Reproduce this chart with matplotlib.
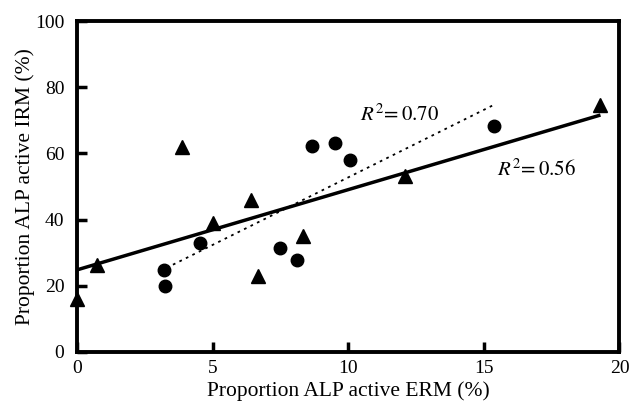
import matplotlib
matplotlib.use('Agg')
import numpy as np
import matplotlib.pyplot as plt

plt.rcParams['font.family'] = ['Liberation Serif', 'DejaVu Serif']
plt.rcParams['mathtext.fontset'] = 'stix'

# triangles (IRM vs ERM, group 1)
tri_x = [0.0, 0.75, 3.86, 5.03, 6.42, 6.69, 8.35, 12.08, 19.3]
tri_y = [16.0, 26.4, 62.0, 39.0, 45.8, 23.1, 34.9, 53.3, 74.5]

# circles (group 2)
circ_x = [3.22, 3.25, 4.54, 7.49, 8.10, 8.66, 9.52, 10.07, 15.36]
circ_y = [24.8, 19.8, 32.9, 31.4, 27.7, 62.2, 63.0, 58.0, 68.3]

# regression lines
solid_x = [0.0, 19.3]
solid_y = [24.8, 71.6]
dot_x = [3.3, 15.4]
dot_y = [25.4, 74.8]

fig = plt.figure(figsize=(6.33, 4.05), dpi=100)
ax = fig.add_axes([0.1216, 0.131, 0.857, 0.817])

ax.plot(solid_x, solid_y, color='black', linewidth=2.5, solid_capstyle='butt')
ax.plot(dot_x, dot_y, color='black', linewidth=1.3, linestyle=(0, (1.5, 2.5)))
ax.plot(tri_x, tri_y, linestyle='none', marker='^', color='black', markersize=10, clip_on=False)
ax.plot(circ_x, circ_y, linestyle='none', marker='o', color='black', markersize=9, clip_on=False)

ax.text(10.45, 71.7, r'$R^2\!=0.70$', fontsize=15, va='center', ha='left')
ax.text(15.5, 55.0, r'$R^2\!=0.56$', fontsize=15, va='center', ha='left')

ax.set_xlim(0, 20)
ax.set_ylim(0, 100)
ax.set_xticks([0, 5, 10, 15, 20])
ax.set_yticks([0, 20, 40, 60, 80, 100])
ax.tick_params(direction='in', length=7, width=2.5, labelsize=14)
ax.tick_params(axis='y', pad=9)
ax.tick_params(axis='x', pad=6)
for s in ax.spines.values():
    s.set_linewidth(2.8)

ax.set_xlabel('Proportion ALP active ERM (%)', fontsize=15.5, labelpad=3)
ax.set_ylabel('Proportion ALP active IRM (%)', fontsize=15.5, labelpad=0)

fig.savefig('out.png', dpi=100)
